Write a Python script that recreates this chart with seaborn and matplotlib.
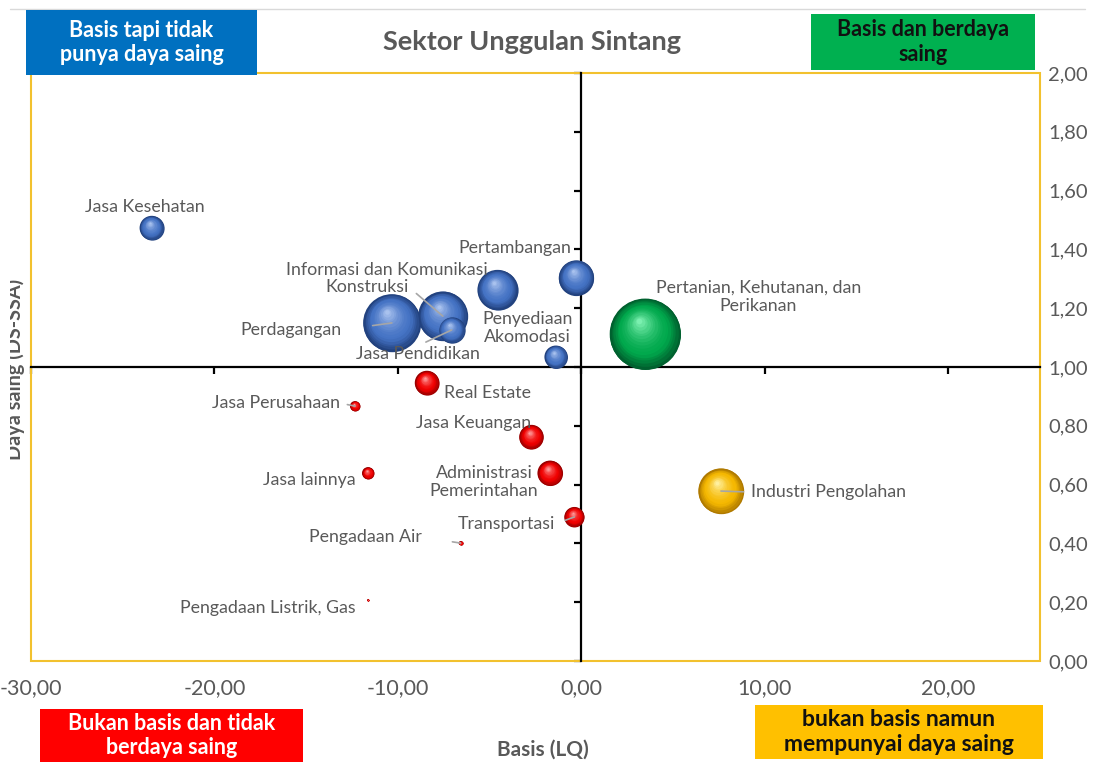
import numpy as np
import pandas as pd
import matplotlib
matplotlib.use("Agg")
import matplotlib.pyplot as plt
import seaborn as sns
from matplotlib.patches import Rectangle
from matplotlib.lines import Line2D
from matplotlib.colors import to_rgb
from matplotlib.transforms import ScaledTranslation

# ---- data -------------------------------------------------------------
sektor = [
    "Jasa Kesehatan", "Pertambangan", "Informasi dan Komunikasi", "Konstruksi",
    "Perdagangan", "Jasa Pendidikan", "Penyediaan\nAkomodasi",
    "Pertanian, Kehutanan, dan\nPerikanan", "Real Estate", "Jasa Perusahaan",
    "Jasa Keuangan", "Administrasi\nPemerintahan", "Jasa lainnya", "Transportasi",
    "Pengadaan Air", "Pengadaan Listrik, Gas", "Industri Pengolahan",
]
lq = [-23.42, -0.27, -4.57, -7.55, -10.33, -7.07, -1.39, 3.48, -8.42, -12.34,
      -2.72, -1.71, -11.63, -0.38, -6.58, -11.63, 7.61]
daya_saing = [1.473, 1.303, 1.262, 1.173, 1.150, 1.126, 1.034, 1.112, 0.946, 0.867,
              0.762, 0.639, 0.639, 0.490, 0.401, 0.207, 0.578]
kontribusi = [2.8, 5.9, 7.7, 11.6, 15.7, 3.3, 2.5, 24.0, 2.8, 0.48,
              2.8, 3.0, 0.69, 1.9, 0.08, 0.02, 9.8]

x_ticks = [-30, -20, -10, 0, 10, 20]
y_ticks = [0.0, 0.2, 0.4, 0.6, 0.8, 1.0, 1.2, 1.4, 1.6, 1.8, 2.0]

kuadran_nama = {
    "kiri_atas": "Basis tapi tidak\npunya daya saing",
    "kanan_atas": "Basis dan berdaya\nsaing",
    "kiri_bawah": "Bukan basis dan tidak\nberdaya saing",
    "kanan_bawah": "bukan basis namun\nmempunyai daya saing",
}

# ---- style ------------------------------------------------------------
W, H, DPI = 1094, 765, 100
GRAY = "#595959"
FRAME = "#F2C12E"
# (dark rim, body, highlight) for each quadrant's spheres
shade = {
    "kiri_atas": ("#22427F", "#4472C4", "#A9C2EE"),
    "kanan_atas": ("#00612F", "#00A84C", "#7BF0B0"),
    "kiri_bawah": ("#9A0000", "#F00000", "#FF9A9A"),
    "kanan_bawah": ("#B07A00", "#F5B800", "#FFF0A0"),
}
# box extent in pixels, fill, text colour, font size
box_style = {
    "kiri_atas": ((26, 10, 257, 75), "#0070C0", "white", 15.5),
    "kanan_atas": ((811, 14, 1035, 70), "#00B050", "#111111", 15.5),
    "kiri_bawah": ((40, 709, 303, 762), "#FF0000", "white", 15.5),
    "kanan_bawah": ((755, 705, 1043, 759), "#FFC000", "#111111", 16.5),
}
# label placement: offset from bubble centre in pixels (right, up), alignment, leader
label_layout = {
    "Jasa Kesehatan": (-7, 21, "center", None),
    "Pertambangan": (-5, 30, "right", None),
    "Informasi dan Komunikasi": (-10, 20, "right", None),
    "Konstruksi": (-34, 29, "right", ((1, 0.5), 4)),
    "Perdagangan": (-50, -7, "right", ((1, 0.5), 20)),
    "Jasa Pendidikan": (-34, -24, "center", ((0.5, 1), 1)),
    "Penyediaan\nAkomodasi": (-28, 29, "center", None),
    "Pertanian, Kehutanan, dan\nPerikanan": (113, 37, "center", None),
    "Real Estate": (17, -10, "left", None),
    "Jasa Perusahaan": (-15, 3, "right", ((1, 0.5), 3)),
    "Jasa Keuangan": (0, 14, "right", None),
    "Administrasi\nPemerintahan": (-66, -9, "center", None),
    "Jasa lainnya": (-12, -7, "right", None),
    "Transportasi": (-19, -7, "right", ((1, 0.5), 5)),
    "Pengadaan Air": (-39, 6, "right", ((1, 0.5), 20)),
    "Pengadaan Listrik, Gas": (-12, -8, "right", None),
    "Industri Pengolahan": (30, -1, "left", ((0, 0.5), 3)),
}

sns.set_theme(style="white")
plt.rcParams["font.family"] = ["Lato", "DejaVu Sans"]

df = pd.DataFrame({"sektor": sektor, "lq": lq, "ds": daya_saing, "kontribusi": kontribusi})


def kuadran(x, y):
    if y >= 1:
        return "kanan_atas" if x >= 0 else "kiri_atas"
    return "kanan_bawah" if x >= 0 else "kiri_bawah"


df["kuadran"] = [kuadran(x, y) for x, y in zip(df.lq, df.ds)]

fig = plt.figure(figsize=(W / DPI, H / DPI), dpi=DPI)
fig.patch.set_facecolor("white")
ax = fig.add_axes([31 / W, 1 - 661 / H, (1040 - 31) / W, (661 - 73) / H])

SMAX = (2 * 35.5 * 72 / DPI) ** 2
SNORM = (0, 24.0)

# base bubbles
sns.scatterplot(data=df, x="lq", y="ds", hue="kuadran", size="kontribusi",
                palette={k: v[0] for k, v in shade.items()},
                sizes=(0, SMAX), size_norm=SNORM, linewidth=0, legend=False,
                ax=ax, zorder=3)


def mix(c1, c2, t):
    a, b = np.array(to_rgb(c1)), np.array(to_rgb(c2))
    return tuple(a + (b - a) * t)


# spherical shading: stacked discs shrinking towards an upper-left highlight
order = df.sort_values("kontribusi", ascending=False).index
for rank, i in enumerate(order):
    row = df.loc[i]
    s = SMAX * (row.kontribusi - SNORM[0]) / (SNORM[1] - SNORM[0])
    r_pt = np.sqrt(s) / 2
    dark, body, light = shade[row.kuadran]
    fr = np.linspace(1.0, 0.08, 16)
    for k, f in enumerate(fr):
        t = (1 - f) / (1 - fr[-1])
        col = mix(dark, body, t / 0.3) if t < 0.3 else mix(body, light, ((t - 0.3) / 0.7) ** 1.6)
        dx = -0.18 * r_pt * (1 - f)
        dy = 0.40 * r_pt * (1 - f)
        tr = ax.transData + ScaledTranslation(dx / 72, dy / 72, fig.dpi_scale_trans)
        ax.scatter([row.lq], [row.ds], s=s * f ** 2, color=col, linewidths=0,
                   transform=tr, zorder=4 + rank * 0.02 + k * 0.001)

# labels
for _, row in df.iterrows():
    dx, dy, ha, leader = label_layout[row.sektor]
    kw = {}
    if leader is not None:
        relpos, shrink = leader
        kw["arrowprops"] = dict(arrowstyle="-", color="#A6A6A6", lw=1.2,
                                relpos=relpos, shrinkA=shrink, shrinkB=0)
    ax.annotate(row.sektor, (row.lq, row.ds), xytext=(dx * 72 / DPI, dy * 72 / DPI),
                textcoords="offset points", ha=ha, va="center", multialignment="center",
                fontsize=12.75, color=GRAY, zorder=10, linespacing=1.2, **kw)

# axes crossing at (0, 1)
ax.set_xlim(-30, 25)
ax.set_ylim(0, 2)
ax.set_xticks(x_ticks)
ax.set_yticks(y_ticks)
ax.set_xlabel("")
ax.set_ylabel("")
ax.spines["left"].set_position(("data", 0))
ax.spines["bottom"].set_position(("data", 1.0))
for sp in ("left", "bottom"):
    ax.spines[sp].set_color("black")
    ax.spines[sp].set_linewidth(1.6)
    ax.spines[sp].set_zorder(2)
ax.spines["top"].set_visible(False)
ax.spines["right"].set_visible(False)
ax.tick_params(axis="both", which="major", direction="out", length=5, width=1.6,
               color="black", bottom=True, left=True, labelbottom=False, labelleft=False)
ax.add_patch(Rectangle((0, 0), 1, 1, transform=ax.transAxes, fill=False,
                       edgecolor=FRAME, lw=1.5, clip_on=False, zorder=1))


def fmt(v, _pos=None):
    return f"{v:.2f}".replace(".", ",")


secx = ax.secondary_xaxis("bottom")
secx.set_xticks(x_ticks)
secx.xaxis.set_major_formatter(plt.FuncFormatter(fmt))
secx.tick_params(length=0, pad=12, labelsize=15.5, labelcolor=GRAY)
secx.spines["bottom"].set_visible(False)

secy = ax.secondary_yaxis("right")
secy.set_yticks(y_ticks)
secy.yaxis.set_major_formatter(plt.FuncFormatter(fmt))
secy.tick_params(length=0, pad=6, labelsize=14.5, labelcolor=GRAY)
secy.spines["right"].set_visible(False)

# titles and axis captions
fig.text(532 / W, 1 - 42 / H, "Sektor Unggulan Sintang", ha="center", va="center",
         fontsize=19.5, fontweight="bold", color=GRAY)
fig.text(543 / W, 1 - 750 / H, "Basis (LQ)", ha="center", va="center",
         fontsize=15, fontweight="bold", color=GRAY)
ylab = fig.text(21 / W, 1 - 369 / H, "Daya saing (DS-SSA)", rotation=90,
                rotation_mode="anchor", ha="center", va="baseline",
                fontsize=14.3, fontweight="bold", color=GRAY)
ylab.set_clip_path(Rectangle((10 / W, 0), 1, 1, transform=fig.transFigure))

# thin chart-area rule at the top
fig.add_artist(Line2D([10 / W, 1085 / W], [1 - 9 / H, 1 - 9 / H],
                      transform=fig.transFigure, color="#D9D9D9", lw=1))

# quadrant caption boxes
for key, ((x0, y0, x1, y1), fc, tc, fs) in box_style.items():
    fig.add_artist(Rectangle((x0 / W, 1 - y1 / H), (x1 - x0) / W, (y1 - y0) / H,
                             transform=fig.transFigure, facecolor=fc, edgecolor="none",
                             zorder=5))
    fig.text((x0 + x1) / 2 / W, 1 - (y0 + y1) / 2 / H, kuadran_nama[key],
             ha="center", va="center", multialignment="center", fontsize=fs,
             fontweight="bold", color=tc, linespacing=1.2, zorder=6)

fig.savefig("out.png", dpi=DPI)
